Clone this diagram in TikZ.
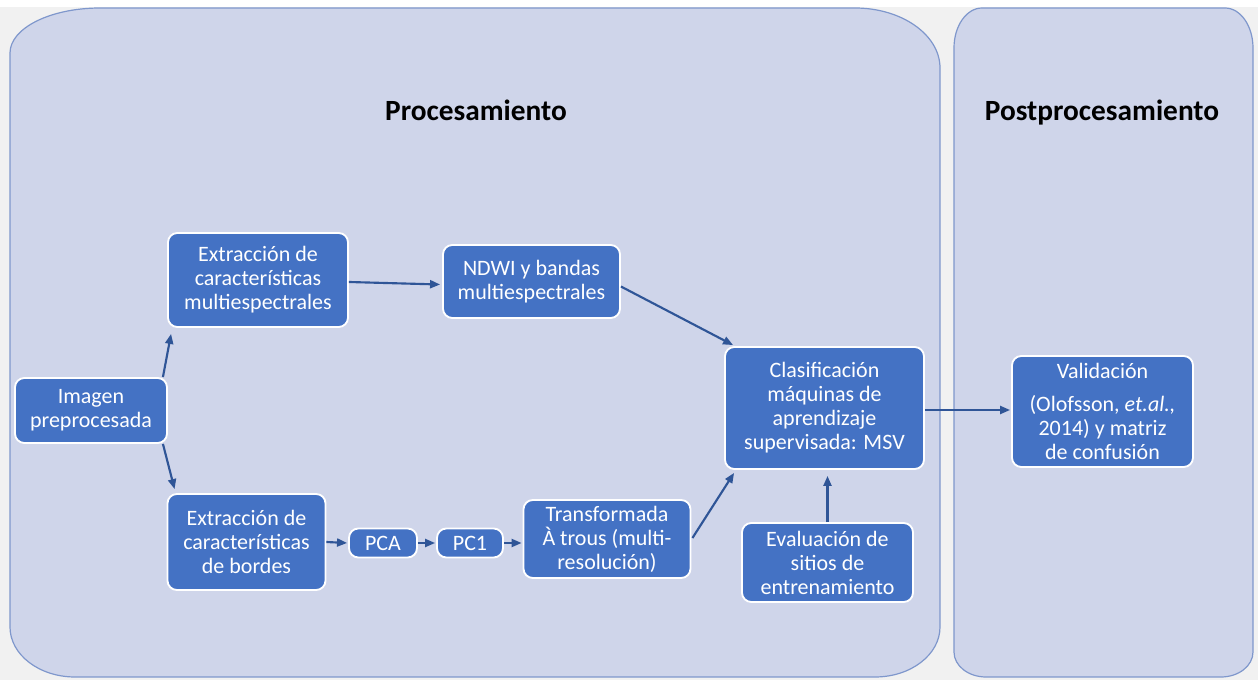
\documentclass[tikz,border=0pt]{standalone}
\usepackage{fontspec}
\setmainfont{Carlito}
\usetikzlibrary{arrows.meta}
\definecolor{panelfill}{HTML}{CFD5EA}
\definecolor{panelline}{HTML}{7F97CC}
\definecolor{boxfill}{HTML}{4472C4}
\definecolor{arrowcol}{HTML}{2F5597}
\definecolor{outerbg}{HTML}{F1F1F1}
\tikzset{
  panel/.style={fill=panelfill, draw=panelline, line width=0.9pt},
  box/.style={rectangle, rounded corners=7pt, fill=boxfill, draw=white, line width=1.4pt,
    text=white, align=center, inner sep=2pt,
    font=\fontsize{16.5}{18}\selectfont},
  title/.style={font=\fontsize{22}{24}\selectfont\bfseries, text=black, text height=16pt, text depth=5pt},
  arr/.style={draw=arrowcol, line width=1.6pt, -{Triangle[length=7.5pt,width=6pt]}}
}
\begin{document}
\begin{tikzpicture}[x=0.75pt,y=-0.75pt]
\useasboundingbox (0,0) rectangle (1258,680);
\fill[outerbg] (0,0) rectangle (1258,680);
\fill[white] (0,0) rectangle (1258,7);
% panels
\path[panel] (100,8) -- (855,8) .. controls (901.9,8) and (940,34.9) .. (940,68)
  -- (940,627) .. controls (940,654.6) and (910.9,677) .. (875,677)
  -- (75,677) .. controls (39.1,677) and (10,654.6) .. (10,627)
  -- (10,53) .. controls (10,28.2) and (50.3,8) .. (100,8) -- cycle;
\path[panel] (982,8) -- (1225,8) .. controls (1240.5,8) and (1253,25.9) .. (1253,48)
  -- (1253,652) .. controls (1253,665.8) and (1238.7,677) .. (1221,677)
  -- (986,677) .. controls (968.3,677) and (954,665.8) .. (954,652)
  -- (954,48) .. controls (954,25.9) and (966.5,8) .. (982,8) -- cycle;
% titles
\node[title] (tproc) at (476,113) {Procesamiento};
\node[title] (tpost) at (1102,113) {Postprocesamiento};
% boxes
\node[box, minimum width=114pt, minimum height=48.75pt] (img) at (91,410.5) {Imagen\\preprocesada};
\node[box, minimum width=135pt, minimum height=70.5pt] (em) at (258,280) {Extracción de\\características\\multiespectrales};
\node[box, minimum width=132.75pt, minimum height=54.75pt] (ndwi) at (531.5,281.5) {NDWI y bandas\\multiespectrales};
\node[box, minimum width=118.5pt, minimum height=72pt] (eb) at (246.5,542) {Extracción de\\características\\de bordes};
\node[box, minimum width=51pt, minimum height=21.75pt, inner sep=0pt] (pca) at (383,543) {PCA};
\node[box, minimum width=49.5pt, minimum height=21.75pt, inner sep=0pt] (pc1) at (470,543) {PC1};
\node[box, minimum width=125.25pt, minimum height=58.5pt] (tr) at (607,539) {Transformada\\À trous (multi-\\resolución)};
\node[box, minimum width=149.25pt, minimum height=91.5pt] (clas) at (824.5,408) {Clasificación\\máquinas de\\aprendizaje\\supervisada: MSV};
\node[box, minimum width=128.25pt, minimum height=59.25pt] (ev) at (827.5,562.5) {Evaluación de\\sitios de\\entrenamiento};
\node[box, minimum width=135.75pt, minimum height=83.25pt] (val) at (1102.5,411.5) {Validación\\[7pt](Olofsson, \textit{et.al.,}\\2014) y matriz\\de confusión};
% connectors
\coordinate (clasout) at ([shift={(0,2)}]clas.east);
\draw[arr] ([shift={(-5,0)}]img.north east) -- ([shift={(4,6)}]em.south west);
\draw[arr] ([shift={(-5,0)}]img.south east) -- ([shift={(8,-4)}]eb.north west);
\draw[arr] ([shift={(0,2)}]em.east) -- ([shift={(-2,3)}]ndwi.west);
\draw[arr] ([shift={(0,5)}]ndwi.east) -- ([shift={(9,-1)}]clas.north west);
\draw[arr] ([shift={(1,-1)}]tr.east) -- ([shift={(10,3)}]clas.south west);
\draw[arr] (ev.north) -- ([shift={(0,6)}]ev.north |- clas.south);
\draw[arr] (eb.east) -- ([shift={(-1,0)}]pca.west);
\draw[arr] (pca.east) -- ([shift={(-1,0)}]pc1.west);
\draw[arr] (pc1.east) -- ([shift={(-1,0)}]tr.west |- pc1.east);
\draw[arr] (clasout) -- ([shift={(-1,0)}]val.west |- clasout);
\end{tikzpicture}
\end{document}
